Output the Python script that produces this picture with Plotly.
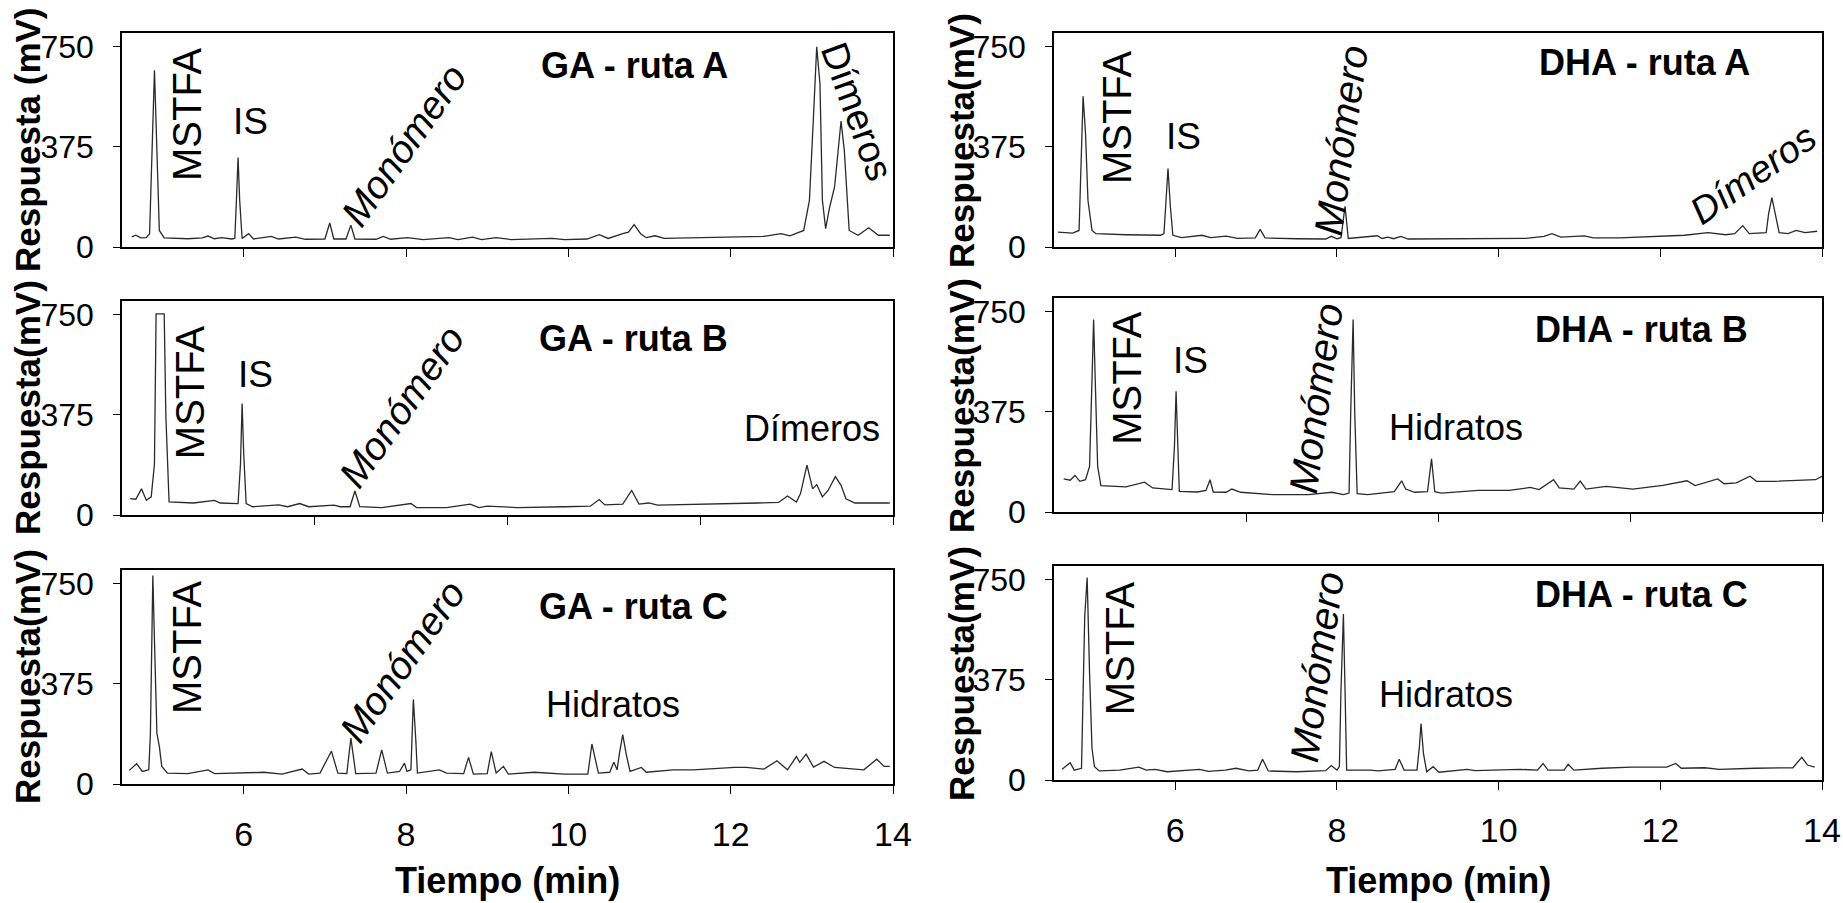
import plotly.graph_objects as go
from plotly.subplots import make_subplots

# ---------------- data (time in min, response in mV) ----------------
t_ga_a = [4.62, 4.67, 4.73, 4.80, 4.84, 4.87, 4.90, 4.93, 4.96, 5.02, 5.31, 5.49, 5.56, 5.64, 5.73, 5.85,
          5.89, 5.91, 5.93, 5.95, 5.98, 6.06, 6.12, 6.34, 6.43, 6.64, 6.76, 7.00, 7.06, 7.11, 7.26, 7.32,
          7.37, 7.63, 7.72, 7.81, 8.02, 8.21, 8.53, 8.64, 8.82, 8.93, 9.11, 9.29, 9.80, 9.95, 10.23, 10.38,
          10.49, 10.67, 10.74, 10.81, 10.89, 10.96, 11.07, 11.18, 11.97, 12.41, 12.62, 12.73, 12.90, 12.97,
          13.02, 13.06, 13.10, 13.13, 13.17, 13.22, 13.28, 13.33, 13.36, 13.40, 13.46, 13.57, 13.70, 13.82, 13.96]
v_ga_a = [38, 44, 34, 35, 50, 362, 662, 362, 62, 34, 31, 34, 41, 31, 35, 30,
          32, 175, 335, 175, 32, 50, 30, 40, 30, 37, 29, 30, 90, 30, 30, 82,
          30, 29, 40, 29, 35, 28, 35, 28, 37, 28, 35, 28, 32, 28, 30, 46,
          32, 50, 56, 84, 50, 35, 42, 32, 37, 40, 50, 42, 62, 175,
          488, 750, 612, 175, 69, 150, 225, 388, 472, 362, 62, 44, 72, 44, 44]

t_dha_a = [4.55, 4.73, 4.81, 4.83, 4.86, 4.89, 4.92, 4.97, 5.02, 5.39, 5.82, 5.86, 5.89, 5.91, 5.94, 5.97,
           6.08, 6.33, 6.44, 6.63, 6.77, 6.99, 7.05, 7.11, 7.50, 7.86, 7.93, 8.00, 8.05, 8.10, 8.14, 8.50,
           8.56, 8.63, 8.70, 8.79, 8.88, 9.39, 10.34, 10.56, 10.66, 10.77, 11.06, 11.17, 11.50, 12.30, 12.59,
           12.81, 12.92, 13.02, 13.10, 13.31, 13.34, 13.38, 13.42, 13.47, 13.58, 13.68, 13.79, 13.94]
v_dha_a = [56, 52, 62, 300, 565, 425, 175, 62, 50, 46, 44, 50, 175, 294, 150, 44,
           35, 44, 35, 41, 32, 34, 66, 34, 31, 30, 40, 31, 35, 152, 32, 42,
           32, 37, 31, 40, 30, 30, 32, 40, 50, 37, 42, 34, 34, 44, 54,
           46, 50, 80, 50, 54, 125, 185, 125, 54, 50, 62, 54, 59]

t_ga_b = [4.60, 4.67, 4.74, 4.80, 4.86, 4.90, 4.92, 5.02, 5.04, 5.08, 5.38, 5.64, 5.71, 5.93, 5.96, 5.98,
          6.00, 6.03, 6.11, 6.43, 6.54, 6.69, 6.80, 7.11, 7.19, 7.31, 7.37, 7.43, 7.70, 8.06, 8.13, 8.50,
          8.79, 8.90, 9.00, 9.37, 9.95, 10.27, 10.38, 10.45, 10.67, 10.78, 10.87, 10.99, 11.10, 11.32, 12.33,
          12.59, 12.70, 12.81, 12.86, 12.94, 13.01, 13.06, 13.13, 13.20, 13.29, 13.36, 13.42, 13.53, 13.96]
v_ga_b = [61, 59, 98, 55, 68, 191, 754, 754, 375, 49, 45, 55, 45, 43, 191, 418,
          227, 43, 31, 38, 31, 43, 31, 37, 31, 31, 90, 31, 28, 43, 28, 28,
          41, 28, 33, 28, 31, 33, 58, 38, 41, 92, 41, 45, 37, 38, 45,
          47, 71, 49, 80, 187, 98, 114, 68, 92, 144, 111, 61, 45, 45]

t_dha_b = [4.62, 4.70, 4.76, 4.82, 4.89, 4.94, 4.97, 4.99, 5.01, 5.04, 5.08, 5.39, 5.62, 5.72, 5.96, 5.99,
           6.01, 6.03, 6.05, 6.27, 6.38, 6.43, 6.47, 6.63, 6.70, 6.81, 7.21, 7.65, 7.94, 8.08, 8.15, 8.17,
           8.20, 8.22, 8.25, 8.38, 8.71, 8.80, 8.85, 8.96, 9.12, 9.17, 9.21, 9.29, 9.75, 10.13, 10.39,
           10.50, 10.68, 10.75, 10.93, 11.01, 11.08, 11.33, 11.66, 12.03, 12.33, 12.43, 12.71, 12.79,
           12.94, 13.11, 13.19, 13.41, 13.78, 13.92, 14.00]
v_dha_b = [124, 119, 137, 115, 121, 171, 496, 721, 496, 171, 99, 94, 112, 90, 84, 246,
           452, 246, 77, 75, 81, 121, 75, 74, 86, 74, 65, 65, 74, 65, 71, 371,
           721, 371, 69, 65, 76, 117, 86, 74, 76, 199, 76, 71, 81, 81, 92,
           84, 121, 90, 86, 116, 86, 96, 86, 100, 117, 99, 124, 106,
           109, 134, 115, 115, 119, 121, 134]

t_ga_c = [4.59, 4.68, 4.75, 4.83, 4.85, 4.87, 4.88, 4.90, 4.93, 4.96, 4.99, 5.06, 5.31, 5.56, 5.64, 6.25,
          6.47, 6.72, 6.80, 6.94, 7.08, 7.16, 7.27, 7.32, 7.38, 7.63, 7.70, 7.77, 7.92, 7.98, 8.01, 8.06,
          8.09, 8.12, 8.14, 8.41, 8.50, 8.71, 8.77, 8.83, 9.00, 9.05, 9.11, 9.20, 9.26, 9.58, 9.73, 9.95,
          10.24, 10.29, 10.37, 10.51, 10.56, 10.60, 10.63, 10.67, 10.71, 10.76, 10.90, 10.96, 11.29, 11.54,
          12.05, 12.19, 12.41, 12.57, 12.70, 12.81, 12.85, 12.93, 13.02, 13.15, 13.28, 13.64, 13.80, 13.89, 13.96]
v_ga_c = [51, 76, 47, 53, 190, 539, 781, 539, 190, 141, 66, 41, 39, 53, 39, 44,
          37, 56, 37, 41, 123, 41, 39, 172, 39, 41, 128, 41, 47, 78, 47, 53,
          317, 165, 41, 53, 41, 39, 100, 37, 39, 121, 41, 66, 37, 44, 41, 37,
          37, 150, 41, 44, 82, 53, 116, 185, 116, 47, 62, 44, 53, 53,
          62, 62, 56, 87, 53, 103, 81, 112, 63, 85, 62, 53, 93, 66, 66]

t_dha_c = [4.60, 4.70, 4.75, 4.84, 4.88, 4.91, 4.94, 4.97, 5.00, 5.06, 5.31, 5.55, 5.64, 5.75, 5.90, 6.30,
           6.41, 6.62, 6.75, 6.91, 7.02, 7.08, 7.15, 7.50, 7.86, 7.93, 8.00, 8.03, 8.05, 8.08, 8.10, 8.12,
           8.41, 8.51, 8.72, 8.77, 8.83, 8.99, 9.02, 9.04, 9.07, 9.11, 9.19, 9.26, 9.61, 9.71, 10.26, 10.48,
           10.55, 10.61, 10.81, 10.86, 10.93, 11.28, 11.64, 12.08, 12.19, 12.26, 12.55, 12.73, 13.17, 13.64,
           13.75, 13.82, 13.91]
v_dha_c = [40, 65, 37, 44, 612, 759, 400, 119, 50, 34, 37, 48, 37, 40, 31, 40,
           32, 37, 44, 34, 37, 78, 34, 31, 35, 54, 37, 50, 338, 622, 338, 37,
           37, 34, 40, 78, 37, 37, 125, 212, 100, 31, 50, 29, 40, 35, 40, 37,
           62, 37, 37, 59, 37, 44, 48, 48, 62, 44, 46, 40, 44, 46,
           85, 56, 48]

panel_titles = ["GA - ruta A", "DHA - ruta A", "GA - ruta B", "DHA - ruta B", "GA - ruta C", "DHA - ruta C"]
y_titles = ["Respuesta (mV)", "Respuesta(mV)", "Respuesta(mV)", "Respuesta(mV)", "Respuesta(mV)", "Respuesta(mV)"]
x_title = "Tiempo (min)"
y_ticks = [0, 375, 750]
x_ticks = [6, 8, 10, 12, 14]
x_ticks_mid = [6.875, 9.25, 11.625, 14]

# peak labels: (text, time, response) per panel
labels_ga_a = [("MSTFA", 5.30, 498), ("IS", 6.08, 470), ("Monómero", 7.97, 380), ("Dímeros", 13.56, 506)]
labels_dha_a = [("MSTFA", 5.28, 487), ("IS", 6.10, 415), ("Monómero", 8.05, 401), ("Dímeros", 13.15, 275)]
labels_ga_b = [("MSTFA", 5.34, 461), ("IS", 6.15, 525), ("Monómero", 7.95, 405), ("Dímeros", 13.00, 325)]
labels_dha_b = [("MSTFA", 5.40, 502), ("IS", 6.19, 568), ("Monómero", 7.74, 427), ("Hidratos", 9.47, 318)]
labels_ga_c = [("MSTFA", 5.30, 513), ("Monómero", 7.95, 460), ("Hidratos", 10.55, 298)]
labels_dha_c = [("MSTFA", 5.32, 495), ("Monómero", 7.75, 424), ("Hidratos", 9.35, 320)]
title_pos = [(10.82, 680), (11.80, 690), (10.80, 660), (11.77, 683), (10.80, 664), (11.77, 694)]

series = [(t_ga_a, v_ga_a), (t_dha_a, v_dha_a), (t_ga_b, v_ga_b),
          (t_dha_b, v_dha_b), (t_ga_c, v_ga_c), (t_dha_c, v_dha_c)]
labels = [labels_ga_a, labels_dha_a, labels_ga_b, labels_dha_b, labels_ga_c, labels_dha_c]

# ---------------- styling / layout ----------------
W, H = 1843, 903
SANS = "Liberation Sans, Arial, sans-serif"

# pixel boxes of the six plot areas: (left, right, top, bottom)
boxes = [(122, 893, 33, 247), (1054, 1822, 33, 247),
         (122, 893, 301, 515), (1054, 1822, 298, 512),
         (122, 893, 570, 784), (1054, 1822, 566, 780)]

fig = make_subplots(rows=3, cols=2)

for i, (t, v) in enumerate(series):
    r, c = i // 2 + 1, i % 2 + 1
    fig.add_trace(go.Scatter(x=t, y=v, mode="lines", line=dict(color="#2a2a2a", width=1.3),
                             showlegend=False, hoverinfo="skip"), row=r, col=c)

annotations = []
for i in range(6):
    l, rgt, top, bot = boxes[i]
    ax = "" if i == 0 else str(i + 1)
    row = i // 2
    fig.layout["xaxis" + ax].update(
        domain=[l / W, rgt / W], range=[4.5, 14], showgrid=False, zeroline=False, automargin=False,
        showline=True, mirror=True, linecolor="black", linewidth=1.5,
        ticks="outside", ticklen=8, tickwidth=1.3, tickcolor="black",
        tickvals=x_ticks_mid if row == 1 else x_ticks,
        showticklabels=(row == 2), ticklabelstandoff=11,
        tickfont=dict(family=SANS, size=34, color="black"))
    fig.layout["yaxis" + ax].update(
        domain=[1 - bot / H, 1 - top / H], range=[0, 802], showgrid=False, zeroline=False, automargin=False,
        showline=True, mirror=True, linecolor="black", linewidth=1.5,
        ticks="outside", ticklen=7, tickwidth=1.3, tickcolor="black",
        tickvals=y_ticks, ticktext=[str(k) for k in y_ticks], ticklabelstandoff=13,
        tickfont=dict(family=SANS, size=32, color="black"))

    xr, yr = "x" + ax, "y" + ax
    annotations.append(dict(text="<b>%s</b>" % panel_titles[i], x=title_pos[i][0], y=title_pos[i][1],
                            xref=xr, yref=yr, showarrow=False,
                            font=dict(family=SANS, size=36, color="black")))
    is_ga = (i % 2 == 0)
    for (txt, tx, vy) in labels[i]:
        a = dict(x=tx, y=vy, xref=xr, yref=yr, showarrow=False, xanchor="center", yanchor="middle")
        if txt == "MSTFA":
            a.update(text=txt, textangle=-90, font=dict(family=SANS, size=40, color="black"))
        elif txt == "IS":
            a.update(text=txt, font=dict(family=SANS, size=37, color="black"))
        elif txt == "Monómero":
            if is_ga:
                a.update(text="<i>%s</i>" % txt, textangle=-55, font=dict(family=SANS, size=39, color="black"))
            else:
                a.update(text="<i>%s</i>" % txt, textangle=-82, font=dict(family=SANS, size=40, color="black"))
        elif txt == "Dímeros":
            if i == 0:
                a.update(text=txt, textangle=70, font=dict(family=SANS, size=38, color="black"))
            elif i == 1:
                a.update(text="<i>%s</i>" % txt, textangle=-35, font=dict(family=SANS, size=38, color="black"))
            else:
                a.update(text=txt, font=dict(family=SANS, size=36, color="black"))
        else:  # Hidratos
            a.update(text=txt, font=dict(family=SANS, size=36, color="black"))
        annotations.append(a)

    annotations.append(dict(text="<b>%s</b>" % y_titles[i], textangle=-90,
                            x=(27 if i % 2 == 0 else 961) / W, xref="paper",
                            y=0.5, yref=yr + " domain", showarrow=False,
                            xanchor="center", yanchor="middle",
                            font=dict(family=SANS, size=35, color="black")))

for ax in ["5", "6"]:
    annotations.append(dict(text="<b>%s</b>" % x_title, x=0.5, xref="x" + ax + " domain",
                            y=1 - 880 / H, yref="paper", showarrow=False,
                            xanchor="center", yanchor="middle",
                            font=dict(family=SANS, size=36, color="black")))

fig.update_layout(width=W, height=H, autosize=False, margin=dict(l=0, r=0, t=0, b=0, pad=0),
                  paper_bgcolor="white", plot_bgcolor="white",
                  annotations=annotations, showlegend=False)

fig.write_html("out.html", config={"displayModeBar": False},
               post_script="document.documentElement.style.overflow='hidden';"
                           "document.body.style.margin='0';document.body.style.overflow='hidden';")
